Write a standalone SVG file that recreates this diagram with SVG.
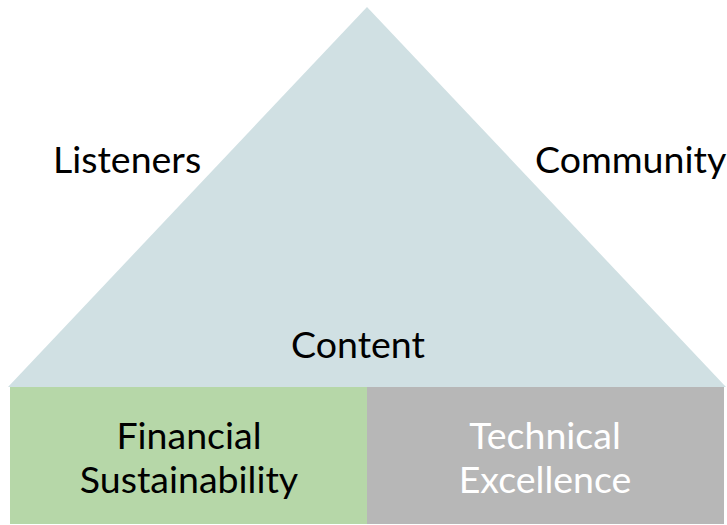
<svg xmlns="http://www.w3.org/2000/svg" width="727" height="525" viewBox="0 0 727 525">
<style>
text{font-family:Lato,"Liberation Sans",sans-serif;font-size:37.5px;fill:#000}
.w{fill:#fff}
</style>
<rect x="0" y="0" width="727" height="525" fill="#fff"/>
<g id="pyramid">
<polygon points="8,387 367,7 726,387" fill="#d0e0e3"/>
<text x="358" y="358" text-anchor="middle">Content</text>
</g>
<g id="listeners"><text x="53" y="173">Listeners</text></g>
<g id="community"><text x="535" y="173">Community</text></g>
<g id="financial">
<rect x="10" y="387" width="357" height="137" fill="#b6d7a8"/>
<text x="189" y="449" text-anchor="middle">Financial</text>
<text x="189" y="493" text-anchor="middle">Sustainability</text>
</g>
<g id="technical">
<rect x="367" y="387" width="357" height="137" fill="#b7b7b7"/>
<text class="w" x="545" y="449" text-anchor="middle">Technical</text>
<text class="w" x="545" y="493" text-anchor="middle">Excellence</text>
</g>
<g id="connectors"/>
</svg>
